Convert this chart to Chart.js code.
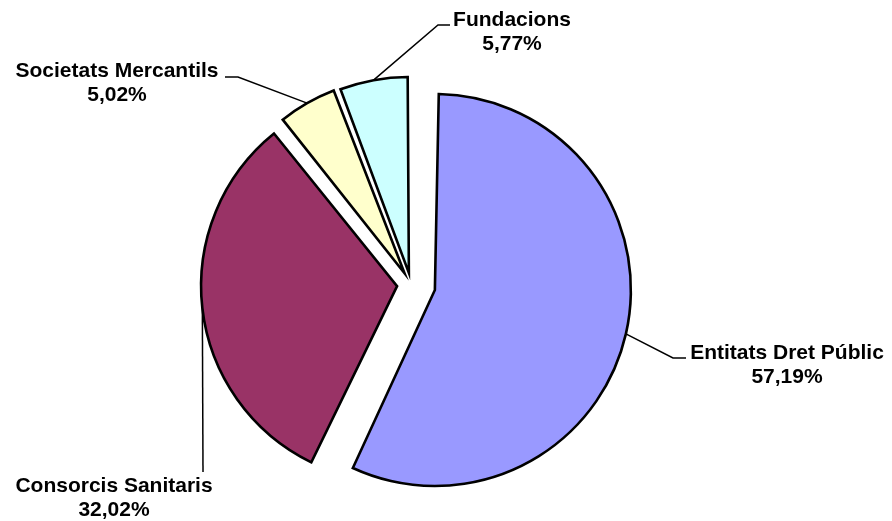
<!DOCTYPE html>
<html>
<head>
<meta charset="utf-8">
<title>Distribució per tipus d'entitat</title>
<script src="https://cdn.jsdelivr.net/npm/chart.js@4/dist/chart.umd.min.js"></script>
<style>
    html, body { margin: 0; padding: 0; background: #ffffff; }
    #pie { display: block; }
</style>
</head>
<body>
<canvas id="pie" width="892" height="521"></canvas>
<script>
// Slice data (percentages)
const categories = ['Entitats Dret Públic', 'Consorcis Sanitaris', 'Societats Mercantils', 'Fundacions'];
const shares = [57.19, 32.02, 5.02, 5.77];
const sliceColors = ['#9999FF', '#993366', '#FFFFCC', '#CCFFFF'];

// How far each slice is pulled out of the pie (Chart.js offset units)
const explode = [98, 56, 52, 47];
const PIE_RADIUS = 196;

// Label boxes: text centre, first baseline, elbow of the leader and its end
const labelLayout = [
    { x: 787, y: 359, elbow: [673, 358], end: [686, 358] },
    { x: 114, y: 492, elbow: [203, 472], end: [203, 472] },
    { x: 117, y: 77, elbow: [238, 77], end: [225, 77] },
    { x: 512, y: 26, elbow: [438, 25], end: [450, 25] }
];

const formatPct = v => v.toFixed(2).replace('.', ',') + '%';

// Chart.js grows an offset arc's radius a little; pull it back so every slice keeps the same size
const equalRadius = {
    id: 'equalRadius',
    afterDatasetsUpdate(chart) {
        chart.getDatasetMeta(0).data.forEach((arc, i) => {
            const t = explode[i] / 4;
            const fix = 1 - Math.sin(Math.min(Math.PI, arc.circumference));
            arc.outerRadius = PIE_RADIUS - t * fix;
        });
    }
};

// Category name + percentage with a leader line to the slice edge
const sliceLabels = {
    id: 'sliceLabels',
    afterDraw(chart) {
        const ctx = chart.ctx;
        const arcs = chart.getDatasetMeta(0).data;
        ctx.save();
        arcs.forEach((arc, i) => {
            const lay = labelLayout[i];
            const t = explode[i] / 4;
            const mid = (arc.startAngle + arc.endAngle) / 2;
            const r = PIE_RADIUS + t;
            const ax = arc.x + Math.cos(mid) * r;
            const ay = arc.y + Math.sin(mid) * r;

            ctx.strokeStyle = '#000000';
            ctx.lineWidth = 1.5;
            ctx.beginPath();
            ctx.moveTo(ax, ay);
            ctx.lineTo(lay.elbow[0], lay.elbow[1]);
            ctx.lineTo(lay.end[0], lay.end[1]);
            ctx.stroke();

            ctx.fillStyle = '#000000';
            ctx.font = 'bold 21px "Liberation Sans", Arial, sans-serif';
            ctx.textAlign = 'center';
            ctx.textBaseline = 'alphabetic';
            ctx.fillText(categories[i], lay.x, lay.y);
            ctx.fillText(formatPct(shares[i]), lay.x, lay.y + 24);
        });
        ctx.restore();
    }
};

const ctx = document.getElementById('pie').getContext('2d');
new Chart(ctx, {
    type: 'pie',
    data: {
        labels: categories,
        datasets: [{
            data: shares,
            backgroundColor: sliceColors,
            borderColor: '#000000',
            borderWidth: 2.6,
            borderJoinStyle: 'miter',
            offset: explode,
            radius: PIE_RADIUS
        }]
    },
    options: {
        responsive: false,
        animation: false,
        events: [],
        layout: {
            padding: { left: 0, right: 70, top: 48, bottom: 0 }
        },
        plugins: {
            legend: { display: false },
            tooltip: { enabled: false }
        }
    },
    plugins: [equalRadius, sliceLabels]
});
</script>
</body>
</html>
